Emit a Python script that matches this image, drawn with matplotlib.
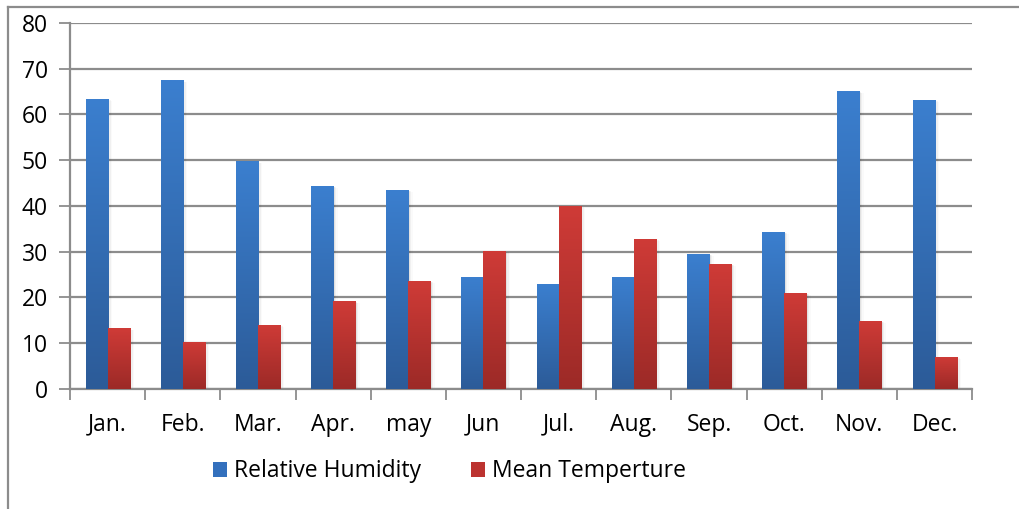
import matplotlib
matplotlib.use('Agg')
import matplotlib.pyplot as plt
import matplotlib.patches as mpatches
from matplotlib.colors import LinearSegmentedColormap
from matplotlib.lines import Line2D
import numpy as np

plt.rcParams['font.family'] = ['Open Sans', 'DejaVu Sans']

months = ['Jan.', 'Feb.', 'Mar.', 'Apr.', 'may', 'Jun', 'Jul.', 'Aug.', 'Sep.', 'Oct.', 'Nov.', 'Dec.']
humidity = [63.4, 67.5, 49.8, 44.4, 43.5, 24.5, 23.0, 24.5, 29.5, 34.3, 65.1, 63.2]
temperature = [13.3, 10.3, 14.0, 19.2, 23.6, 30.2, 40.0, 32.8, 27.3, 21.0, 14.9, 7.0]

BLUE_TOP, BLUE_BOT = '#3B7FCF', '#2C5B98'
RED_TOP, RED_BOT = '#CF3B37', '#9C2A27'
GRID = '#8C8C8C'
FS = 16.5

fig = plt.figure(figsize=(10.19, 5.09), dpi=100)
ax = fig.add_axes([0.0687, 0.2358, 0.8853, 0.719])

x = np.arange(len(months))
w = 0.293


def gradient_bars(xs, vals, top, bot):
    cmap = LinearSegmentedColormap.from_list('g', [bot, top])
    grad = np.linspace(0, 1, 256).reshape(-1, 1)
    bars = ax.bar(xs, vals, width=w, color=bot, zorder=3)
    for b in bars:
        bx, by = b.get_x(), b.get_y()
        bw, bh = b.get_width(), b.get_height()
        # soft drop shadow
        for k, a in enumerate([0.06, 0.04, 0.02]):
            ax.add_patch(mpatches.Rectangle((bx + 0.01 * (k + 1), by), bw + 0.01 * (k + 1), bh - 0.15 * (k + 1),
                                            color='black', alpha=a, lw=0, zorder=2))
        im = ax.imshow(grad, cmap=cmap, aspect='auto', origin='lower',
                       extent=(bx, bx + bw, by, by + bh), zorder=3.5)
        im.set_clip_path(b)
    return bars


gradient_bars(x - w / 2, humidity, BLUE_TOP, BLUE_BOT)
gradient_bars(x + w / 2, temperature, RED_TOP, RED_BOT)

ax.set_xlim(-0.5, len(months) - 0.5)
ax.set_ylim(0, 80)
ax.set_yticks(range(0, 81, 10))
ax.grid(axis='y', color=GRID, lw=1.6, zorder=1)
ax.set_axisbelow(True)

ax.set_xticks(x)
ax.set_xticklabels(months)
ax.set_xticks(np.arange(-0.5, len(months)), minor=True)
ax.tick_params(axis='x', which='major', length=0, pad=17, labelsize=FS)
ax.tick_params(axis='x', which='minor', length=8, width=1.3, color=GRID, direction='out')
ax.tick_params(axis='y', length=8, width=1.3, color=GRID, pad=8, labelsize=FS)

for s in ['top', 'right']:
    ax.spines[s].set_visible(False)
for s in ['left', 'bottom']:
    ax.spines[s].set_color(GRID)
    ax.spines[s].set_linewidth(1.6)

handles = [mpatches.Patch(facecolor='#3370BD', label='Relative Humidity'),
           mpatches.Patch(facecolor='#BC3330', label='Mean Temperture')]
fig.legend(handles=handles, loc='center', bbox_to_anchor=(0.441, 0.074), ncol=2,
           frameon=False, fontsize=FS, handlelength=0.62, handleheight=0.62,
           handletextpad=0.3, columnspacing=2.2)

# outer chart frame
fig.add_artist(Line2D([0.008, 1.0], [0.986, 0.986], color=GRID, lw=1.6))
fig.add_artist(Line2D([0.008, 0.008], [0.0, 0.986], color=GRID, lw=1.6))

fig.savefig('out.png', dpi=100)
